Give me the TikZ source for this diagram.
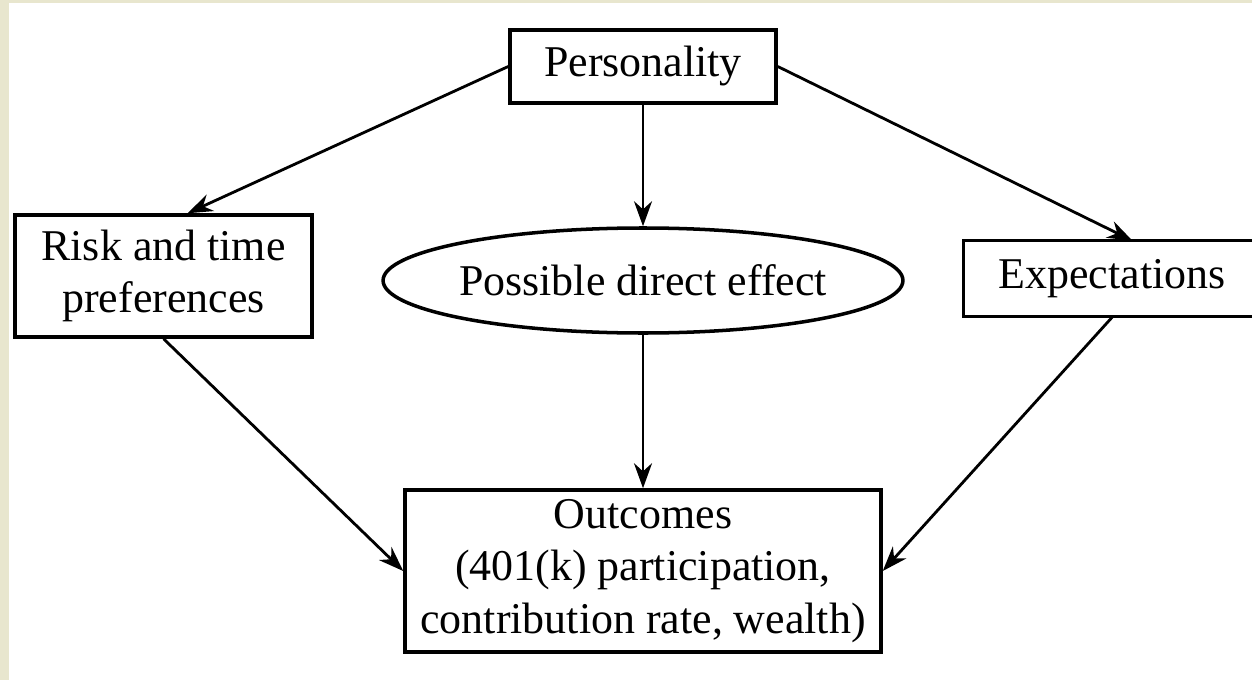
\documentclass[tikz,border=0pt]{standalone}
\usepackage{fontspec}
\setmainfont{Liberation Serif}
\usepackage{tikz}
\usetikzlibrary{arrows.meta, shapes.geometric}
\definecolor{paper}{RGB}{232,230,206}
\tikzset{
  >={Stealth[length=5mm, width=3.6mm]},
  link/.style={->, line width=1.6pt},
  every node/.style={font=\fontsize{25}{30}\selectfont, align=center},
  box/.style={draw, line width=2pt, inner sep=0pt},
  oval/.style={ellipse, draw, line width=2pt, inner sep=0pt},
}
\begin{document}
\begin{tikzpicture}
        % frame
        \useasboundingbox (0,0) rectangle (25.04,-13.6);
        \clip (0,0) rectangle (25.04,-13.6);
        \fill[paper] (0,0) rectangle (25.04,-13.6);
        \fill[white] (0.18,-0.06) rectangle (25.04,-13.6);

        % factors
        \node[box, minimum width=5.32cm, minimum height=1.46cm] (pers) at (12.86,-1.33) {Personality};
        \node[box, minimum width=5.94cm, minimum height=2.44cm] (risk) at (3.27,-5.52) {Risk and time\\preferences};
        \node[oval, minimum width=9.56cm, minimum height=2.1cm] (direct) at (12.86,-5.61) {Possible direct effect};
        \node[inner sep=0pt, minimum width=5.92cm, minimum height=1.52cm] (expect) at (22.24,-5.58) {Expectations};
        \draw[line width=2pt] (expect.north west) rectangle ++(7,-1.52);
        \node[box, minimum width=9.52cm, minimum height=3.24cm] (out) at (12.86,-11.42) {Outcomes\\(401(k) participation,\\contribution rate, wealth)};

        % links
        \draw[link] (pers.west) -- (risk.69);
        \draw[link] (pers.south) -- (direct.north);
        \draw[link] (pers.east) -- (expect.62);
        \draw[link] (risk.south) -- (out.west);
        \draw[link] (direct.south) -- (out.north);
        \draw[link] (expect.south) -- (out.east);
\end{tikzpicture}
\end{document}
